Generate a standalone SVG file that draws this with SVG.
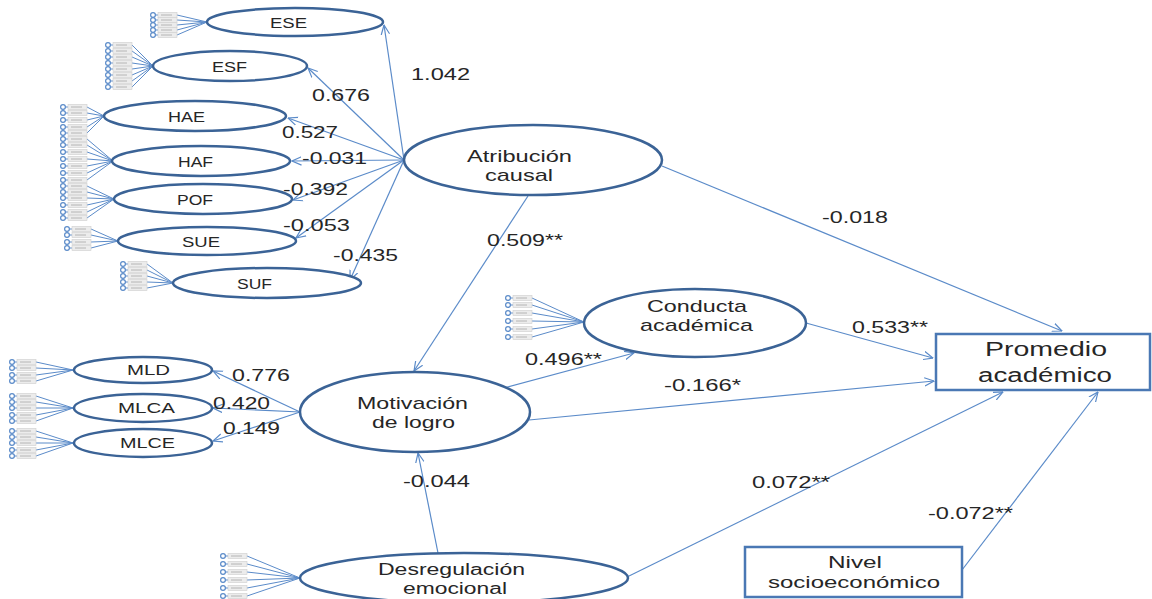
<svg xmlns="http://www.w3.org/2000/svg" xmlns:xlink="http://www.w3.org/1999/xlink" width="1152" height="599" viewBox="0 0 1152 599">
  <style>
    .lat { fill: #ffffff; stroke: #3b6396; stroke-width: 2.5; }
    .box { fill: #ffffff; stroke: #4a78b4; stroke-width: 2.5; }
    .path { fill: none; stroke: #5b8bc9; stroke-width: 1.2; }
    .fan { fill: none; stroke: #5b8bc9; stroke-width: 1; }
    .t { font-family: "Liberation Sans", Arial, sans-serif; fill: #262626; }
    .small { font-size: 14px; text-anchor: start; }
    .big { font-size: 17px; text-anchor: start; }
    .coef { font-size: 17px; text-anchor: start; }
  </style>
  <defs>
    <marker id="arr" viewBox="0 0 10 10" refX="9.5" refY="5" markerWidth="10" markerHeight="10" markerUnits="userSpaceOnUse" orient="auto">
      <path d="M0,0.8 L9.5,5 L0,9.2" fill="none" stroke="#5b8bc9" stroke-width="1.2"/>
    </marker>
    <!-- one observed indicator: error circle + small item box -->
    <g id="ind">
      <circle cx="3" cy="0" r="2.4" fill="#ffffff" stroke="#5b8bc9" stroke-width="1.2"/>
      <line x1="5.4" y1="0" x2="8" y2="0" stroke="#5b8bc9" stroke-width="1"/>
      <rect x="8" y="-2.6" width="19" height="5.2" fill="#ececec" stroke="#d0d0d0" stroke-width="0.6"/>
      <line x1="11" y1="0" x2="22" y2="0" stroke="#a8a8a8" stroke-width="0.8"/>
    </g>
  </defs>

  <rect width="1152" height="599" fill="#ffffff"/>

  <!-- indicator fans -->
  <g id="indicators">
    <path class="fan" d="M177 15L207 22M177 20L207 22M177 25L207 22M177 30L207 22M177 35L207 22"/>
    <use xlink:href="#ind" x="150" y="15"/><use xlink:href="#ind" x="150" y="20"/><use xlink:href="#ind" x="150" y="25"/><use xlink:href="#ind" x="150" y="30"/><use xlink:href="#ind" x="150" y="35"/>

    <path class="fan" d="M132 45L153 66M132 51L153 66M132 57L153 66M132 63L153 66M132 69L153 66M132 75L153 66M132 81L153 66M132 87L153 66"/>
    <use xlink:href="#ind" x="105" y="45"/><use xlink:href="#ind" x="105" y="51"/><use xlink:href="#ind" x="105" y="57"/><use xlink:href="#ind" x="105" y="63"/><use xlink:href="#ind" x="105" y="69"/><use xlink:href="#ind" x="105" y="75"/><use xlink:href="#ind" x="105" y="81"/><use xlink:href="#ind" x="105" y="87"/>

    <path class="fan" d="M87 107L104 116M87 113L104 116M87 120L104 116M87 127L104 116M87 133L104 116"/>
    <use xlink:href="#ind" x="60" y="107"/><use xlink:href="#ind" x="60" y="113"/><use xlink:href="#ind" x="60" y="120"/><use xlink:href="#ind" x="60" y="127"/><use xlink:href="#ind" x="60" y="133"/>

    <path class="fan" d="M87 139L113 161M87 145L113 161M87 152L113 161M87 159L113 161M87 166L113 161M87 173L113 161M87 180L113 161"/>
    <use xlink:href="#ind" x="60" y="139"/><use xlink:href="#ind" x="60" y="145"/><use xlink:href="#ind" x="60" y="152"/><use xlink:href="#ind" x="60" y="159"/><use xlink:href="#ind" x="60" y="166"/><use xlink:href="#ind" x="60" y="173"/><use xlink:href="#ind" x="60" y="180"/>

    <path class="fan" d="M87 186L114 199M87 192L114 199M87 198L114 199M87 205L114 199M87 212L114 199M87 218L114 199"/>
    <use xlink:href="#ind" x="60" y="186"/><use xlink:href="#ind" x="60" y="192"/><use xlink:href="#ind" x="60" y="198"/><use xlink:href="#ind" x="60" y="205"/><use xlink:href="#ind" x="60" y="212"/><use xlink:href="#ind" x="60" y="218"/>

    <path class="fan" d="M91 229L118 241M91 235L118 241M91 242L118 241M91 248L118 241"/>
    <use xlink:href="#ind" x="64" y="229"/><use xlink:href="#ind" x="64" y="235"/><use xlink:href="#ind" x="64" y="242"/><use xlink:href="#ind" x="64" y="248"/>

    <path class="fan" d="M147 264L173 283M147 270L173 283M147 276L173 283M147 282L173 283M147 288L173 283"/>
    <use xlink:href="#ind" x="120" y="264"/><use xlink:href="#ind" x="120" y="270"/><use xlink:href="#ind" x="120" y="276"/><use xlink:href="#ind" x="120" y="282"/><use xlink:href="#ind" x="120" y="288"/>

    <path class="fan" d="M532 298L584 322M532 305L584 322M532 313L584 322M532 321L584 322M532 329L584 322M532 337L584 322"/>
    <use xlink:href="#ind" x="505" y="298"/><use xlink:href="#ind" x="505" y="305"/><use xlink:href="#ind" x="505" y="313"/><use xlink:href="#ind" x="505" y="321"/><use xlink:href="#ind" x="505" y="329"/><use xlink:href="#ind" x="505" y="337"/>

    <path class="fan" d="M36 362L73 370M36 368L73 370M36 375L73 370M36 381L73 370"/>
    <use xlink:href="#ind" x="9" y="362"/><use xlink:href="#ind" x="9" y="368"/><use xlink:href="#ind" x="9" y="375"/><use xlink:href="#ind" x="9" y="381"/>

    <path class="fan" d="M36 396L73 408M36 402L73 408M36 408L73 408M36 415L73 408M36 421L73 408"/>
    <use xlink:href="#ind" x="9" y="396"/><use xlink:href="#ind" x="9" y="402"/><use xlink:href="#ind" x="9" y="408"/><use xlink:href="#ind" x="9" y="415"/><use xlink:href="#ind" x="9" y="421"/>

    <path class="fan" d="M36 431L73 443M36 437L73 443M36 443L73 443M36 450L73 443M36 456L73 443"/>
    <use xlink:href="#ind" x="9" y="431"/><use xlink:href="#ind" x="9" y="437"/><use xlink:href="#ind" x="9" y="443"/><use xlink:href="#ind" x="9" y="450"/><use xlink:href="#ind" x="9" y="456"/>

    <path class="fan" d="M247 556L300 578M247 564L300 578M247 572L300 578M247 580L300 578M247 588L300 578M247 596L300 578"/>
    <use xlink:href="#ind" x="220" y="556"/><use xlink:href="#ind" x="220" y="564"/><use xlink:href="#ind" x="220" y="572"/><use xlink:href="#ind" x="220" y="580"/><use xlink:href="#ind" x="220" y="588"/><use xlink:href="#ind" x="220" y="596"/>
  </g>

  <!-- structural paths and loadings -->
  <g id="connectors">
    <line class="path" x1="404" y1="160" x2="384" y2="25" marker-end="url(#arr)"/>
    <line class="path" x1="404" y1="160" x2="308" y2="68" marker-end="url(#arr)"/>
    <line class="path" x1="404" y1="160" x2="288" y2="118" marker-end="url(#arr)"/>
    <line class="path" x1="404" y1="160" x2="292" y2="161" marker-end="url(#arr)"/>
    <line class="path" x1="404" y1="160" x2="293" y2="200" marker-end="url(#arr)"/>
    <line class="path" x1="404" y1="160" x2="296" y2="238" marker-end="url(#arr)"/>
    <line class="path" x1="404" y1="160" x2="350" y2="280" marker-end="url(#arr)"/>

    <line class="path" x1="662" y1="166" x2="1062" y2="331" marker-end="url(#arr)"/>
    <line class="path" x1="528" y1="196" x2="414" y2="371" marker-end="url(#arr)"/>
    <line class="path" x1="500" y1="389" x2="634" y2="353" marker-end="url(#arr)"/>
    <line class="path" x1="806" y1="323" x2="933" y2="358" marker-end="url(#arr)"/>
    <line class="path" x1="529" y1="420" x2="934" y2="381" marker-end="url(#arr)"/>
    <line class="path" x1="627" y1="577" x2="1003" y2="392" marker-end="url(#arr)"/>
    <line class="path" x1="438" y1="553" x2="418" y2="453" marker-end="url(#arr)"/>
    <line class="path" x1="962" y1="570" x2="1098" y2="392" marker-end="url(#arr)"/>

    <line class="path" x1="300" y1="412" x2="213" y2="371" marker-end="url(#arr)"/>
    <line class="path" x1="300" y1="412" x2="213" y2="408" marker-end="url(#arr)"/>
    <line class="path" x1="300" y1="412" x2="213" y2="441" marker-end="url(#arr)"/>

    <g class="t coef">
      <text x="411" y="80" textLength="59" lengthAdjust="spacingAndGlyphs">1.042</text>
      <text x="312" y="101" textLength="58" lengthAdjust="spacingAndGlyphs">0.676</text>
      <text x="282" y="138" textLength="56" lengthAdjust="spacingAndGlyphs">0.527</text>
      <text x="302" y="164" textLength="65" lengthAdjust="spacingAndGlyphs">-0.031</text>
      <text x="283" y="195" textLength="65" lengthAdjust="spacingAndGlyphs">-0.392</text>
      <text x="283" y="231" textLength="67" lengthAdjust="spacingAndGlyphs">-0.053</text>
      <text x="333" y="261" textLength="65" lengthAdjust="spacingAndGlyphs">-0.435</text>
      <text x="487" y="246" textLength="76" lengthAdjust="spacingAndGlyphs">0.509**</text>
      <text x="822" y="223" textLength="66" lengthAdjust="spacingAndGlyphs">-0.018</text>
      <text x="852" y="333" textLength="76" lengthAdjust="spacingAndGlyphs">0.533**</text>
      <text x="525" y="365" textLength="77" lengthAdjust="spacingAndGlyphs">0.496**</text>
      <text x="664" y="391" textLength="77" lengthAdjust="spacingAndGlyphs">-0.166*</text>
      <text x="232" y="381" textLength="58" lengthAdjust="spacingAndGlyphs">0.776</text>
      <text x="213" y="409" textLength="57" lengthAdjust="spacingAndGlyphs">0.420</text>
      <text x="223" y="434" textLength="57" lengthAdjust="spacingAndGlyphs">0.149</text>
      <text x="403" y="487" textLength="67" lengthAdjust="spacingAndGlyphs">-0.044</text>
      <text x="752" y="488" textLength="78" lengthAdjust="spacingAndGlyphs">0.072**</text>
      <text x="928" y="519" textLength="85" lengthAdjust="spacingAndGlyphs">-0.072**</text>
    </g>
  </g>

  <!-- first-order factors -->
  <g id="ESE"><ellipse class="lat" cx="295" cy="22" rx="88" ry="14"/><text class="t small" x="270" y="28" textLength="37" lengthAdjust="spacingAndGlyphs">ESE</text></g>
  <g id="ESF"><ellipse class="lat" cx="230" cy="66" rx="77" ry="15"/><text class="t small" x="212" y="72" textLength="35" lengthAdjust="spacingAndGlyphs">ESF</text></g>
  <g id="HAE"><ellipse class="lat" cx="195" cy="116" rx="91" ry="15"/><text class="t small" x="168" y="122" textLength="37" lengthAdjust="spacingAndGlyphs">HAE</text></g>
  <g id="HAF"><ellipse class="lat" cx="201" cy="161" rx="89" ry="15"/><text class="t small" x="178" y="167" textLength="35" lengthAdjust="spacingAndGlyphs">HAF</text></g>
  <g id="POF"><ellipse class="lat" cx="203" cy="199" rx="89" ry="15"/><text class="t small" x="177" y="205" textLength="36" lengthAdjust="spacingAndGlyphs">POF</text></g>
  <g id="SUE"><ellipse class="lat" cx="207" cy="241" rx="89" ry="14"/><text class="t small" x="182" y="247" textLength="38" lengthAdjust="spacingAndGlyphs">SUE</text></g>
  <g id="SUF"><ellipse class="lat" cx="267" cy="283" rx="94" ry="15"/><text class="t small" x="237" y="289" textLength="35" lengthAdjust="spacingAndGlyphs">SUF</text></g>
  <g id="MLD"><ellipse class="lat" cx="143" cy="370" rx="69" ry="13"/><text class="t small" x="127" y="375" textLength="43" lengthAdjust="spacingAndGlyphs">MLD</text></g>
  <g id="MLCA"><ellipse class="lat" cx="143" cy="408" rx="69" ry="14"/><text class="t small" x="118" y="413" textLength="57" lengthAdjust="spacingAndGlyphs">MLCA</text></g>
  <g id="MLCE"><ellipse class="lat" cx="143" cy="443" rx="69" ry="14"/><text class="t small" x="120" y="448" textLength="55" lengthAdjust="spacingAndGlyphs">MLCE</text></g>

  <!-- second-order factors -->
  <g id="atribucion">
    <ellipse class="lat" cx="533" cy="160" rx="129" ry="35"/>
    <text class="t big" x="467" y="162" textLength="105" lengthAdjust="spacingAndGlyphs">Atribución</text>
    <text class="t big" x="485" y="181" textLength="68" lengthAdjust="spacingAndGlyphs">causal</text>
  </g>
  <g id="conducta">
    <ellipse class="lat" cx="695" cy="323" rx="111" ry="34"/>
    <text class="t big" x="647" y="312" textLength="100" lengthAdjust="spacingAndGlyphs">Conducta</text>
    <text class="t big" x="640" y="331" textLength="113" lengthAdjust="spacingAndGlyphs">académica</text>
  </g>
  <g id="motivacion">
    <ellipse class="lat" cx="415" cy="412" rx="115" ry="40"/>
    <text class="t big" x="357" y="409" textLength="111" lengthAdjust="spacingAndGlyphs">Motivación</text>
    <text class="t big" x="372" y="428" textLength="83" lengthAdjust="spacingAndGlyphs">de logro</text>
  </g>
  <g id="desregulacion">
    <ellipse class="lat" cx="464" cy="578" rx="164" ry="25"/>
    <text class="t" font-size="16" x="378" y="575" textLength="147" lengthAdjust="spacingAndGlyphs">Desregulación</text>
    <text class="t" font-size="16" x="403" y="594" textLength="104" lengthAdjust="spacingAndGlyphs">emocional</text>
  </g>

  <!-- observed variables -->
  <g id="promedio">
    <rect class="box" x="936" y="334" width="214" height="56"/>
    <text class="t" font-size="20" x="985" y="356" textLength="122" lengthAdjust="spacingAndGlyphs">Promedio</text>
    <text class="t" font-size="20" x="978" y="382" textLength="134" lengthAdjust="spacingAndGlyphs">académico</text>
  </g>
  <g id="nivel">
    <rect class="box" x="745" y="547" width="217" height="50"/>
    <text class="t" font-size="17" x="828" y="568" textLength="54" lengthAdjust="spacingAndGlyphs">Nivel</text>
    <text class="t" font-size="17" x="768" y="588" textLength="172" lengthAdjust="spacingAndGlyphs">socioeconómico</text>
  </g>
</svg>
